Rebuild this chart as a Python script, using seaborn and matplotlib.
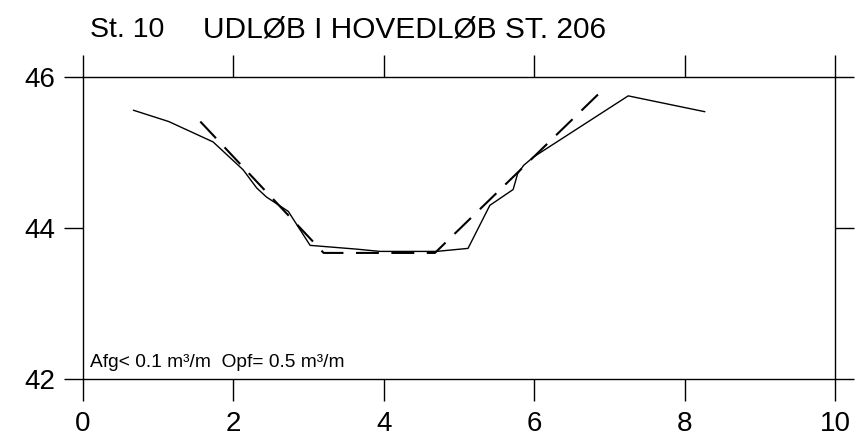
import matplotlib
matplotlib.use("Agg")
import matplotlib.pyplot as plt
import seaborn as sns
import pandas as pd

# Cross-section profile: station (m) and level (m)
measured_x = [0.67, 1.14, 1.73, 2.13, 2.31, 2.44, 2.73, 3.02, 3.64, 3.95,
              4.70, 5.12, 5.41, 5.72, 5.78, 5.86, 5.99, 7.25, 8.27]
measured_y = [45.56, 45.41, 45.14, 44.77, 44.53, 44.41, 44.22, 43.77, 43.72, 43.69,
              43.69, 43.73, 44.30, 44.51, 44.72, 44.83, 44.94, 45.75, 45.54]

design_x = [1.56, 3.20, 4.68, 6.85]
design_y = [45.41, 43.67, 43.67, 45.77]

x_ticks = [0, 2, 4, 6, 8, 10]
y_ticks = [42, 44, 46]

station = "St. 10"
title = "UDLØB I HOVEDLØB ST. 206"
note = "Afg< 0.1 m³/m  Opf= 0.5 m³/m"

sns.set_style("ticks")
plt.rcParams["font.family"] = ["Liberation Sans", "DejaVu Sans"]

measured = pd.DataFrame({"x": measured_x, "y": measured_y})
design = pd.DataFrame({"x": design_x, "y": design_y})

fig = plt.figure(figsize=(8.57, 4.48), dpi=100)
ax = fig.add_axes([83 / 857, 1 - 379 / 448, (835 - 83) / 857, (379 - 77) / 448])

sns.lineplot(data=measured, x="x", y="y", sort=False, ax=ax,
             color="black", linewidth=1.0)
sns.lineplot(data=design, x="x", y="y", sort=False, ax=ax,
             color="black", linewidth=1.5)
ax.lines[-1].set_dashes((11, 6))

ax.set_xlim(0, 10)
ax.set_ylim(42, 46)
ax.set_xticks(x_ticks)
ax.set_yticks(y_ticks)
ax.set_xlabel("")
ax.set_ylabel("")

for s in ax.spines.values():
    s.set_visible(True)
    s.set_linewidth(1.0)
    s.set_color("black")

ax.tick_params(axis="both", which="major", direction="out", width=1.0,
               color="black", labelsize=20, labelcolor="black")
ax.tick_params(axis="x", length=16, pad=7, top=True, bottom=True,
               labeltop=False)
ax.tick_params(axis="y", length=14, pad=6, left=True, right=True,
               labelright=False)

# Heading above the frame
fig.text(90 / 857, 1 - 37 / 448, station, fontsize=20.5, ha="left",
         va="baseline", color="black")
fig.text(203 / 857, 1 - 37 / 448, title, fontsize=21.5, ha="left",
         va="baseline", color="black")

# Volume note in the lower-left corner of the frame
ax.text(0.009, 0.04, note, transform=ax.transAxes, fontsize=13.8,
        ha="left", va="baseline", color="black")

fig.savefig("out.png", dpi=100, facecolor="white")
